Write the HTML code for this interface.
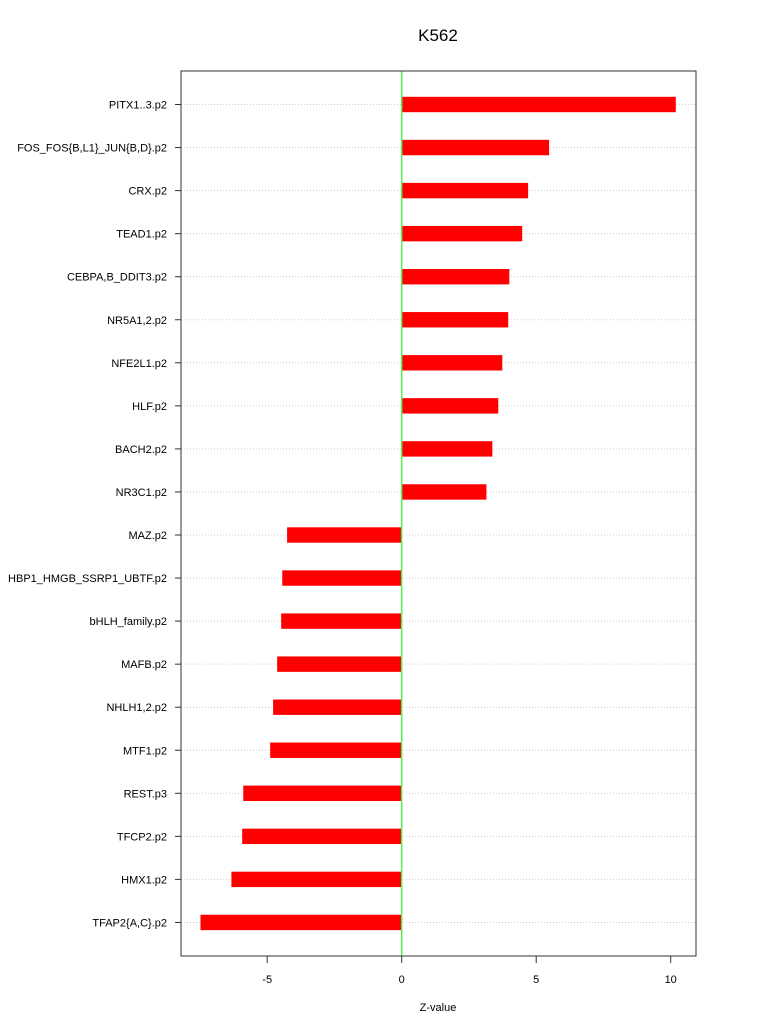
<!DOCTYPE html>
<html><head><meta charset="utf-8"><style>
body{margin:0;background:#fff;}
svg text{font-family:"Liberation Sans",sans-serif;}
</style></head><body>
<svg width="768" height="1028" xmlns="http://www.w3.org/2000/svg">
<rect width="768" height="1028" fill="#fff"/>
<text x="438" y="41" font-size="17" text-anchor="middle">K562</text>
<g id="grid"></g>
<g id="bars"></g>
<line id="zero" y1="71" y2="956" stroke="#55ee55" stroke-width="1.5"/>
<rect x="181" y="71" width="515" height="885" fill="none" stroke="#333" stroke-width="1"/>
<g id="xaxis"></g>
<g id="yaxis"></g>
<text x="438" y="1011" font-size="11" text-anchor="middle">Z-value</text>
<script>
const categories=["PITX1..3.p2","FOS_FOS{B,L1}_JUN{B,D}.p2","CRX.p2","TEAD1.p2","CEBPA,B_DDIT3.p2","NR5A1,2.p2","NFE2L1.p2","HLF.p2","BACH2.p2","NR3C1.p2","MAZ.p2","HBP1_HMGB_SSRP1_UBTF.p2","bHLH_family.p2","MAFB.p2","NHLH1,2.p2","MTF1.p2","REST.p3","TFCP2.p2","HMX1.p2","TFAP2{A,C}.p2"];
const values=[10.19,5.48,4.70,4.48,4.0,3.96,3.74,3.59,3.37,3.15,-4.26,-4.44,-4.48,-4.63,-4.78,-4.89,-5.89,-5.93,-6.33,-7.48];
const xTicks=[-5,0,5,10];
const NS="http://www.w3.org/2000/svg";
const x=v=>401.7+v*26.9;
const y=i=>104.5+i*43.05;
function mk(tag,attrs,parent){const e=document.createElementNS(NS,tag);for(const k in attrs)e.setAttribute(k,attrs[k]);document.getElementById(parent).appendChild(e);return e;}
document.getElementById('zero').setAttribute('x1',x(0));
document.getElementById('zero').setAttribute('x2',x(0));
categories.forEach((c,i)=>{
  const g=mk('line',{x1:181,x2:696,y1:y(i),y2:y(i),stroke:'#ccc','stroke-dasharray':'1,2'},'grid');
  
  
  const v=values[i];
  const b=mk('rect',{x:Math.min(x(0),x(v)),y:y(i)-7.7,width:Math.abs(x(v)-x(0)),height:15.4,fill:'#ff0000'},'bars');
  
  
  const t=mk('line',{x1:175,x2:181,y1:y(i),y2:y(i),stroke:'#333'},'yaxis');
  
  
  const l=mk('text',{x:167,y:y(i)+4,'font-size':'11','text-anchor':'end'},'yaxis');
  l.textContent=c;
  
  
});
xTicks.forEach(v=>{
  const t=mk('line',{x1:x(v),x2:x(v),y1:956,y2:963,stroke:'#333'},'xaxis');
  
  
  const l=mk('text',{x:x(v),y:983,'font-size':'11','text-anchor':'middle'},'xaxis');
  l.textContent=v;
  
  
});
</script>
</svg>
</body></html>
